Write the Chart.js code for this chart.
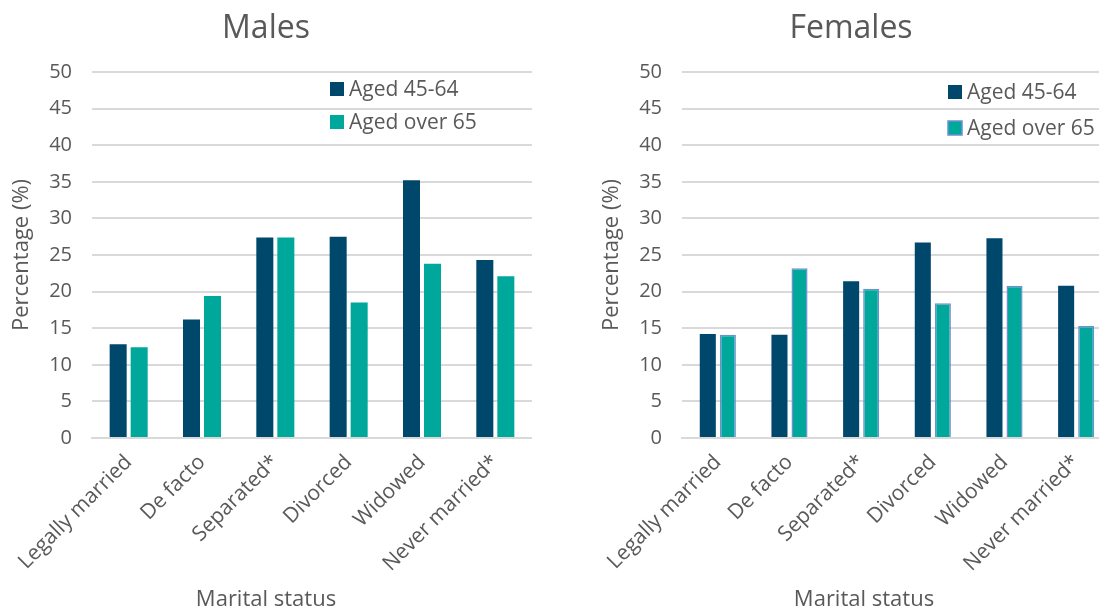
<!DOCTYPE html>
<html><head><meta charset="utf-8">
<script src="https://cdn.jsdelivr.net/npm/chart.js@4/dist/chart.umd.min.js"></script>
<style>
html,body{margin:0;padding:0;background:#fff;overflow:hidden;width:1099px;height:610px;}
#wl{position:absolute;left:0;top:0;width:532px;height:610px;}
#wr{position:absolute;left:590px;top:0;width:522px;height:610px;}
</style></head><body>
<div id="wl"><canvas id="cl"></canvas></div>
<div id="wr"><canvas id="cr"></canvas></div>
<script>
const categories = ['Legally married','De facto','Separated*','Divorced','Widowed','Never married*'];
const seriesNames = ['Aged 45-64','Aged over 65'];
const males4564 = [12.8, 16.2, 27.4, 27.5, 35.2, 24.3];
const malesOver65 = [12.4, 19.4, 27.4, 18.5, 23.8, 22.1];
const females4564 = [14.2, 14.1, 21.4, 26.7, 27.3, 20.8];
const femalesOver65 = [14.1, 23.2, 20.4, 18.4, 20.8, 15.3];
const yTicks = [0,5,10,15,20,25,30,35,40,45,50];
const xTitle = 'Marital status';
const yTitle = 'Percentage (%)';

const DARK = '#00476C', TEAL = '#00A89C', GREY = '#595959', FONT = "'Open Sans', sans-serif";

const legendPlugin = {
  id: 'inlegend',
  afterDraw(chart, args, opts) {
    const ctx = chart.ctx;
    ctx.save();
    ctx.font = '21px ' + FONT;
    ctx.textBaseline = 'middle';
    chart.data.datasets.forEach((ds, i) => {
      const cy = opts.y + i * opts.gap;
      ctx.fillStyle = ds.backgroundColor;
      ctx.fillRect(opts.x, cy - 7, 14, 14);
      if (ds.borderWidth) {
        ctx.strokeStyle = ds.borderColor; ctx.lineWidth = 1.5;
        ctx.strokeRect(opts.x, cy - 7, 14, 14);
      }
      ctx.fillStyle = GREY;
      ctx.fillText(ds.label, opts.x + 19, cy + 1);
    });
    // x axis title
    ctx.font = '22px ' + FONT;
    ctx.textAlign = 'center';
    ctx.textBaseline = 'alphabetic';
    ctx.fillText(xTitle, opts.titleX, 606);
    ctx.restore();
  }
};

function make(id, title, a, b, legendPos, cat, bar, bordered) {
  return new Chart(document.getElementById(id), {
    type: 'bar',
    data: {
      labels: categories,
      datasets: [
        {label: seriesNames[0], data: a, backgroundColor: DARK, borderWidth: 0, categoryPercentage: cat, barPercentage: bar},
        {label: seriesNames[1], data: b, backgroundColor: TEAL, borderColor: bordered ? '#6F8FCF' : TEAL, borderWidth: bordered ? 1.5 : 0, borderSkipped: 'bottom', categoryPercentage: cat, barPercentage: bar}
      ]
    },
    options: {
      responsive: true, maintainAspectRatio: false, animation: false,
      layout: {padding: {left: 0, right: 0, top: 0, bottom: 0}},
      plugins: {
        legend: {display: false},
        tooltip: {enabled: false},
        title: {display: true, text: title, color: GREY, font: {family: FONT, size: 32, weight: 'normal'}, padding: {top: 10, bottom: 23.6}},
        inlegend: legendPos
      },
      scales: {
        x: {
          grid: {display: false, drawTicks: false},
          border: {display: true, color: '#d9d9d9', width: 2},
          ticks: {color: GREY, font: {family: FONT, size: 21}, minRotation: 45, maxRotation: 45, padding: 12, autoSkip: false},
          title: {display: false},
          afterFit(s) { s.height = 172; }
        },
        y: {
          min: 0, max: 50,
          afterBuildTicks(s) { s.ticks = yTicks.map(v => ({value: v})); },
          grid: {color: '#d9d9d9', lineWidth: 2, drawTicks: false},
          border: {display: false},
          ticks: {color: GREY, font: {family: FONT, size: 20}, padding: 20},
          title: {display: true, text: yTitle, color: GREY, font: {family: FONT, size: 22}, padding: {top: 9, bottom: 0}},
          afterFit(s) { s.width = 92; }
        }
      }
    },
    plugins: [legendPlugin]
  });
}

make('cl', 'Males', males4564, malesOver65, {x: 330, y: 89, gap: 33, titleX: 266}, 0.573, 0.81, false);
make('cr', 'Females', females4564, femalesOver65, {x: 358, y: 92, gap: 36, titleX: 274}, 0.56, 0.8, true);
</script>
</body></html>
